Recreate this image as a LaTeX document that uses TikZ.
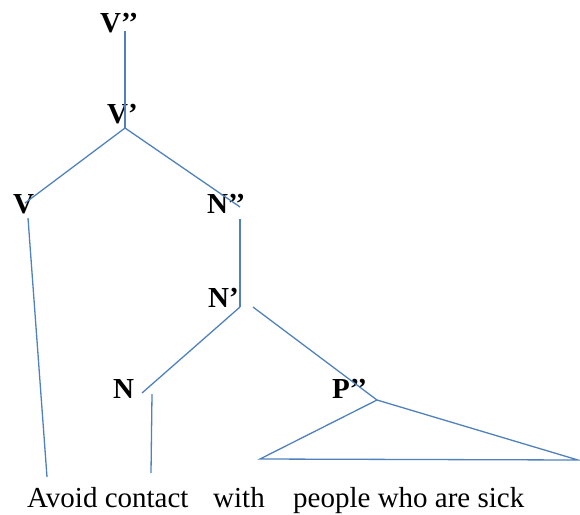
\documentclass[tikz,border=0pt]{standalone}
\usepackage{fontspec}
\setmainfont{Liberation Serif}
\definecolor{treeblue}{RGB}{79,129,189}

\begin{document}
\begin{tikzpicture}[x=1pt, y=-1pt,
        every node/.style={inner sep=0pt, anchor=base west, font=\fontsize{29}{34}\selectfont},
        branch/.style={treeblue, line width=1.3pt}]
    \useasboundingbox (0, 0) rectangle (580, 514);
    % category labels
    \foreach \cName/\cX/\cY/\cText in {vbarbar/100/32/V’’, vbar/107/123/V’, v/13/213/V,
            nbarbar/207/213/N’’, nbar/208/307/N’, n/113/398/N, pbarbar/332/398/P’’}
        \node[font=\fontsize{29}{34}\selectfont\bfseries] (\cName) at (\cX, \cY) {\cText};
    % words
    \node (avoid) at (27, 507) {Avoid contact};
    \node (with) at (213, 507) {with};
    \node (people) at (293, 507) {people who are sick};
    % branch points
    \coordinate (vtop) at (125, 31);
    \coordinate (vjoin) at (125, 128);
    \coordinate (vleft) at (25, 203);
    \coordinate (vright) at (240, 207);
    \coordinate (vdown) at (28, 218);
    \coordinate (vend) at (47, 477);
    \coordinate (ntop) at (240, 219);
    \coordinate (njoin) at (240, 307);
    \coordinate (nleft) at (142, 393);
    \coordinate (nstart) at (253, 307);
    \coordinate (pjoin) at (377, 400);
    \coordinate (ndown) at (152, 394);
    \coordinate (nend) at (151, 473);
    \coordinate (tleft) at (260, 459);
    \coordinate (tright) at (578, 460);
    \foreach \a/\b in {vtop/vjoin, vjoin/vleft, vjoin/vright, vdown/vend, ntop/njoin,
            njoin/nleft, nstart/pjoin, ndown/nend}
        \draw[branch] (\a) -- (\b);
    \draw[branch] (pjoin) -- (tleft) -- (tright) -- cycle;
\end{tikzpicture}
\end{document}
